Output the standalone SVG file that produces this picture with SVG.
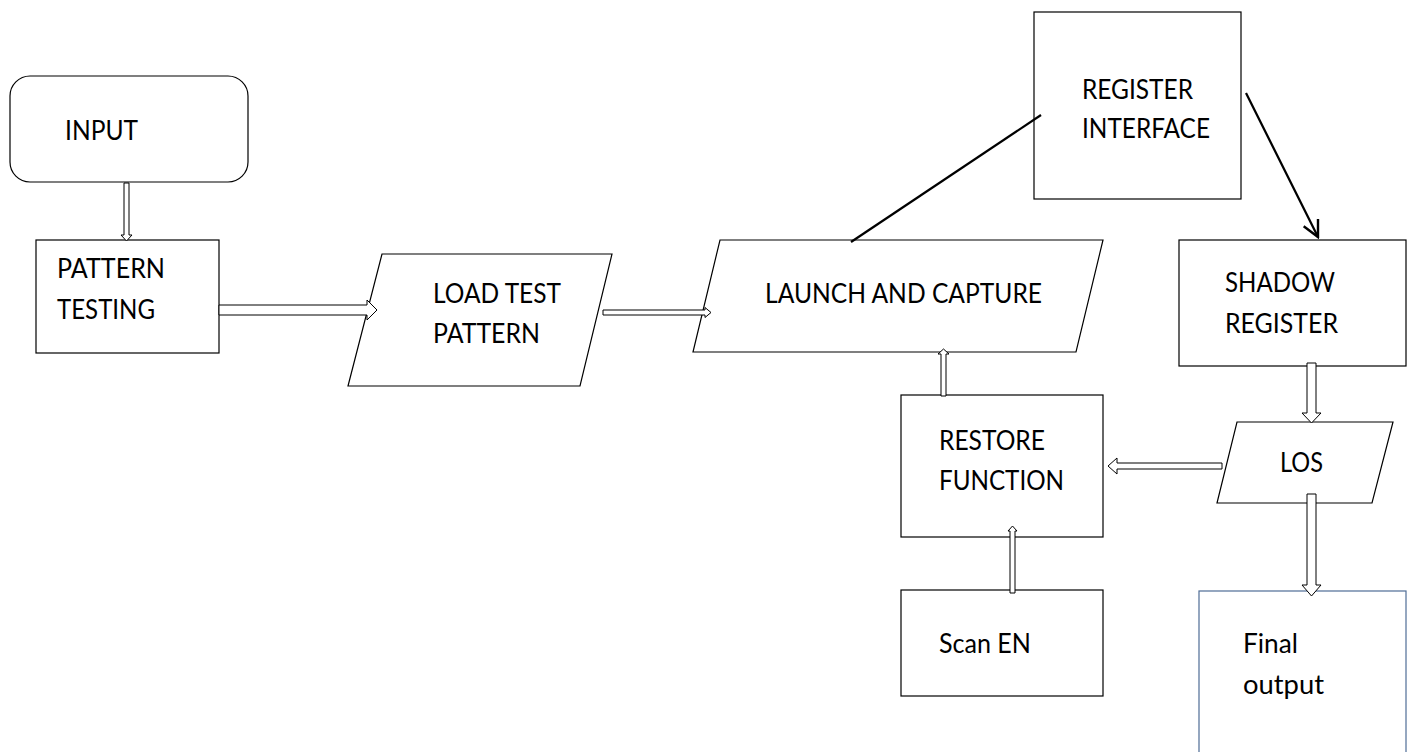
<svg xmlns="http://www.w3.org/2000/svg" width="1407" height="752" viewBox="0 0 1407 752">
  <style>
    .box { fill: #ffffff; stroke: #000000; stroke-width: 1.2; }
    .blue { fill: #ffffff; stroke: #4f6d96; stroke-width: 1.2; }
    .lbl { font-family: Lato, "Open Sans", "Liberation Sans", sans-serif; font-size: 26px; fill: #000000; }
    .hollow { fill: #ffffff; stroke: #000000; stroke-width: 1; stroke-linejoin: miter; }
    .line { fill: none; stroke: #000000; stroke-width: 2.2; }
  </style>
  <defs>
    <marker id="vhead" viewBox="0 0 20 20" refX="18" refY="10" markerWidth="20" markerHeight="20" markerUnits="userSpaceOnUse" orient="auto">
      <path d="M2,2 L18,10 L2,18" fill="none" stroke="#000000" stroke-width="2.4"/>
    </marker>
  </defs>

  <rect width="1407" height="752" fill="#ffffff"/>

  <g id="input">
    <rect class="box" x="10" y="76" width="238" height="106" rx="20" ry="20"/>
    <text class="lbl" x="65" y="140" textLength="73" lengthAdjust="spacingAndGlyphs">INPUT</text>
  </g>

  <g id="pattern-testing">
    <rect class="box" x="36" y="240" width="183" height="113"/>
    <text class="lbl" x="57" y="278" textLength="108" lengthAdjust="spacingAndGlyphs">PATTERN</text>
    <text class="lbl" x="57" y="319" textLength="98" lengthAdjust="spacingAndGlyphs">TESTING</text>
  </g>

  <g id="load-test-pattern">
    <polygon class="box" points="382,254 612,254 580,386 348,386"/>
    <text class="lbl" x="433" y="303" textLength="128" lengthAdjust="spacingAndGlyphs">LOAD TEST</text>
    <text class="lbl" x="433" y="343" textLength="107" lengthAdjust="spacingAndGlyphs">PATTERN</text>
  </g>

  <g id="launch-and-capture">
    <polygon class="box" points="720,240 1103,240 1076,352 693,352"/>
    <text class="lbl" x="765" y="303" textLength="277" lengthAdjust="spacingAndGlyphs">LAUNCH AND CAPTURE</text>
  </g>

  <g id="register-interface">
    <rect class="box" x="1034" y="12" width="207" height="187"/>
    <text class="lbl" x="1082" y="99" textLength="111" lengthAdjust="spacingAndGlyphs">REGISTER</text>
    <text class="lbl" x="1082" y="138" textLength="128" lengthAdjust="spacingAndGlyphs">INTERFACE</text>
  </g>

  <g id="shadow-register">
    <rect class="box" x="1179" y="240" width="227" height="126"/>
    <text class="lbl" x="1225" y="292" textLength="110" lengthAdjust="spacingAndGlyphs">SHADOW</text>
    <text class="lbl" x="1225" y="333" textLength="113" lengthAdjust="spacingAndGlyphs">REGISTER</text>
  </g>

  <g id="los">
    <polygon class="box" points="1237,422 1393,422 1372,503 1217,503"/>
    <text class="lbl" x="1280" y="472" textLength="43" lengthAdjust="spacingAndGlyphs">LOS</text>
  </g>

  <g id="restore-function">
    <rect class="box" x="901" y="395" width="202" height="142"/>
    <text class="lbl" x="939" y="450" textLength="106" lengthAdjust="spacingAndGlyphs">RESTORE</text>
    <text class="lbl" x="939" y="490" textLength="125" lengthAdjust="spacingAndGlyphs">FUNCTION</text>
  </g>

  <g id="scan-en">
    <rect class="box" x="901" y="590" width="202" height="106"/>
    <text class="lbl" x="939" y="653" textLength="92" lengthAdjust="spacingAndGlyphs">Scan EN</text>
  </g>

  <g id="final-output">
    <rect class="blue" x="1199" y="591" width="207" height="180"/>
    <text class="lbl" x="1243" y="653" textLength="55" lengthAdjust="spacingAndGlyphs">Final</text>
    <text class="lbl" x="1243" y="694" textLength="81" lengthAdjust="spacingAndGlyphs">output</text>
  </g>

  <!-- connectors, drawn over the node outlines -->
  <g id="connectors">
    <!-- INPUT to PATTERN TESTING -->
    <polygon class="hollow" points="124,183 129,183 129,235 132,235 126.5,241 121,235 124,235"/>
    <!-- PATTERN TESTING to LOAD TEST PATTERN -->
    <polygon class="hollow" points="219,305 367,305 367,300 377,310 367,320 367,315 219,315"/>
    <!-- LOAD TEST PATTERN to LAUNCH AND CAPTURE -->
    <polygon class="hollow" points="603,310 705,310 705,307.5 711,312.5 705,317.5 705,315 603,315"/>
    <!-- REGISTER INTERFACE to LAUNCH AND CAPTURE -->
    <line class="line" x1="1041" y1="115" x2="851" y2="242"/>
    <!-- REGISTER INTERFACE to SHADOW REGISTER -->
    <line class="line" x1="1246" y1="93" x2="1318" y2="237" marker-end="url(#vhead)"/>
    <!-- SHADOW REGISTER to LOS -->
    <polygon class="hollow" points="1307,363 1316,363 1316,413 1321,413 1311.5,423 1302,413 1307,413"/>
    <!-- LOS to RESTORE FUNCTION -->
    <polygon class="hollow" points="1222,463 1117,463 1117,458 1108,466 1117,474 1117,469 1222,469"/>
    <!-- LOS to Final output -->
    <polygon class="hollow" points="1307,494 1316,494 1316,585 1321,585 1311.5,596 1302,585 1307,585"/>
    <!-- RESTORE FUNCTION to LAUNCH AND CAPTURE -->
    <polygon class="hollow" points="941,396 941,354 938,354 943.5,349 949,354 946,354 946,396"/>
    <!-- Scan EN to RESTORE FUNCTION -->
    <polygon class="hollow" points="1010,593 1010,531 1008,531 1012.5,526 1017,531 1015,531 1015,593"/>
  </g>
</svg>
